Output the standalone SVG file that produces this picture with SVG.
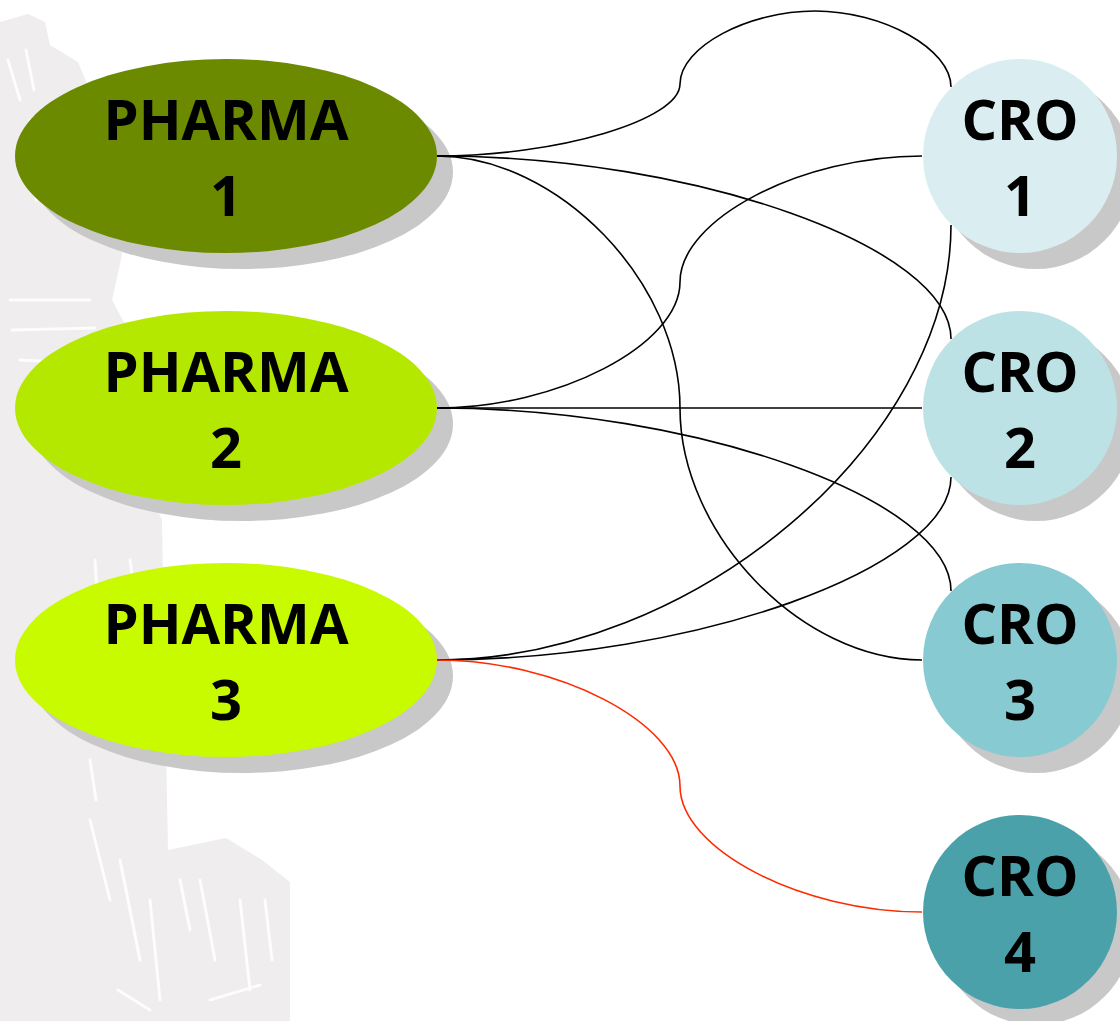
<svg xmlns="http://www.w3.org/2000/svg" width="1120" height="1021" viewBox="0 0 1120 1021">
  <defs>
    <style>
      .shadow { fill: #c8c8c8; }
      .label { font-family: "Open Sans", "Liberation Sans", sans-serif; font-weight: 700; font-size: 56px; fill: #000; text-anchor: middle; }
      .link { fill: none; stroke: #000; stroke-width: 1.6; }
      .link.hot { stroke: #ff2a00; }
      .wm { fill: #efeded; }
      .wm-detail { fill: none; stroke: #ffffff; stroke-width: 3; stroke-linecap: round; stroke-linejoin: round; opacity: 0.85; }
    </style>
  </defs>

  <rect x="0" y="0" width="1120" height="1021" fill="#ffffff"/>

  <!-- faint tower watermark on the left -->
  <g id="watermark">
    <path class="wm" d="M0,22 L28,14 L45,22 L50,45 L78,62 L98,110 L118,200 L122,255 L112,300 L128,330 L140,470 L162,520 L165,700 L168,850 L226,838 L262,860 L290,882 L290,1021 L0,1021 Z"/>
    <path class="wm-detail" d="M10,300 L90,300 M12,330 L95,328 M20,360 L60,362 M8,60 L20,100 M26,50 L34,90 M30,120 L36,200 M60,140 L66,210 M95,560 L100,640 M105,600 L120,700 M130,560 L138,620 M90,760 L96,800 M90,820 L110,900 M120,860 L140,960 M150,900 L160,1000 M180,880 L190,930 M200,880 L215,960 M240,900 L250,990 M265,900 L272,960 M118,990 L150,1010 M210,1000 L260,985"/>
  </g>

  <!-- pharma nodes -->
  <g id="pharma1">
    <ellipse class="shadow" cx="242" cy="172" rx="211" ry="97"/>
    <ellipse cx="226" cy="156" rx="211" ry="97" fill="#6b8a00"/>
    <text class="label" x="226" y="140">PHARMA</text>
    <text class="label" x="226" y="216">1</text>
  </g>
  <g id="pharma2">
    <ellipse class="shadow" cx="242" cy="424" rx="211" ry="97"/>
    <ellipse cx="226" cy="408" rx="211" ry="97" fill="#b5e800"/>
    <text class="label" x="226" y="392">PHARMA</text>
    <text class="label" x="226" y="468">2</text>
  </g>
  <g id="pharma3">
    <ellipse class="shadow" cx="242" cy="676" rx="211" ry="97"/>
    <ellipse cx="226" cy="660" rx="211" ry="97" fill="#c8fa00"/>
    <text class="label" x="226" y="644">PHARMA</text>
    <text class="label" x="226" y="720">3</text>
  </g>

  <!-- CRO nodes -->
  <g id="cro1">
    <circle class="shadow" cx="1036" cy="172" r="97"/>
    <circle cx="1020" cy="156" r="97" fill="#daeef1"/>
    <text class="label" x="1020" y="140">CRO</text>
    <text class="label" x="1020" y="216">1</text>
  </g>
  <g id="cro2">
    <circle class="shadow" cx="1036" cy="424" r="97"/>
    <circle cx="1020" cy="408" r="97" fill="#bde2e6"/>
    <text class="label" x="1020" y="392">CRO</text>
    <text class="label" x="1020" y="468">2</text>
  </g>
  <g id="cro3">
    <circle class="shadow" cx="1036" cy="676" r="97"/>
    <circle cx="1020" cy="660" r="97" fill="#88cad1"/>
    <text class="label" x="1020" y="644">CRO</text>
    <text class="label" x="1020" y="720">3</text>
  </g>
  <g id="cro4">
    <circle class="shadow" cx="1036" cy="928" r="97"/>
    <circle cx="1020" cy="912" r="97" fill="#4ba1aa"/>
    <text class="label" x="1020" y="896">CRO</text>
    <text class="label" x="1020" y="972">4</text>
  </g>

  <!-- curved connectors -->
  <g id="connectors">
    <path class="link" d="M437,156 C558,156 680,120 680,84 C680,47 748,11 815,11 C883,11 951,49 951,87"/>
    <path class="link" d="M437,156 C694,156 951,247 951,339"/>
    <path class="link" d="M437,156 C558,156 680,282 680,408 C680,534 801,660 922,660"/>
    <path class="link" d="M437,408 C558,408 680,345 680,282 C680,219 801,156 922,156"/>
    <path class="link" d="M437,408 L922,408"/>
    <path class="link" d="M437,408 C694,408 951,499 951,591"/>
    <path class="link" d="M437,660 C694,660 951,442 951,225"/>
    <path class="link" d="M437,660 C694,660 951,568 951,477"/>
    <path class="link hot" d="M437,660 C558,660 680,723 680,786 C680,849 801,912 922,912"/>
  </g>
</svg>
